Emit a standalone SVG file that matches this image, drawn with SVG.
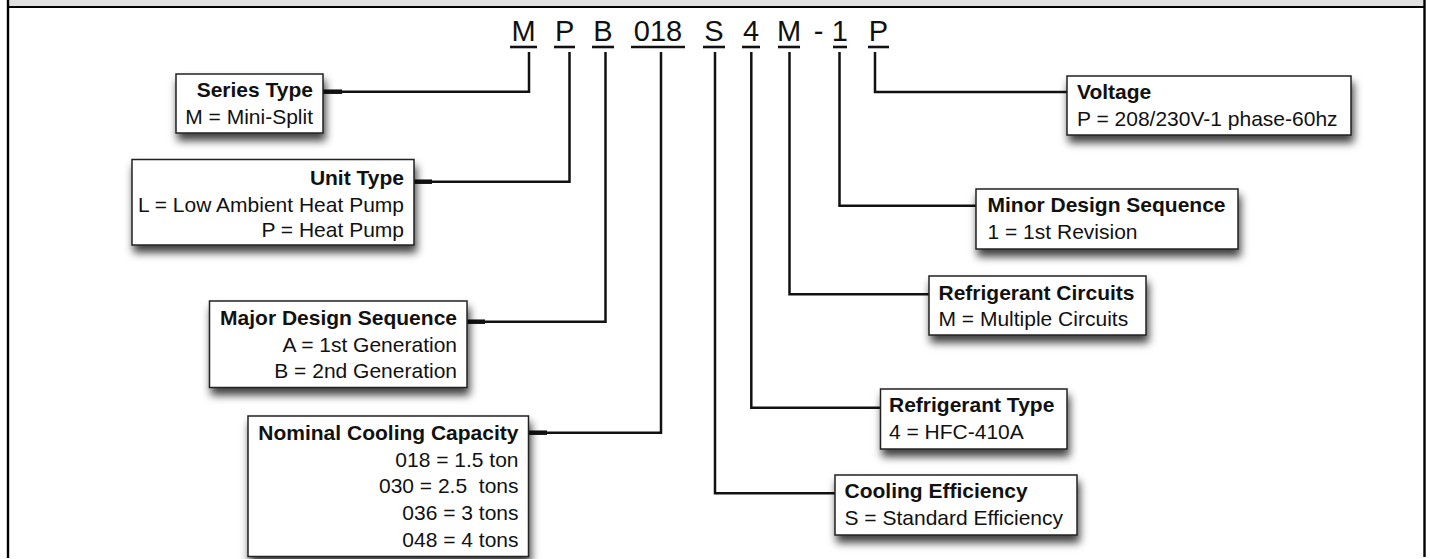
<svg xmlns="http://www.w3.org/2000/svg" width="1430" height="559" viewBox="0 0 1430 559">
<style>
text{font-family:"Liberation Sans",Arial,sans-serif;fill:#111}
.code{font-size:29px;text-anchor:middle}
.t{font-size:21px;font-weight:bold}
.d{font-size:21px}
.l text{text-anchor:end}
.box{fill:#fff;stroke:#222;stroke-width:1.5;filter:url(#sh)}
.ul{stroke:#111;stroke-width:2.6}
.cn{fill:none;stroke:#111;stroke-width:2.5}
.stub{stroke:#111;stroke-width:4.5}
</style>
<defs>
<filter id="sh" x="-10%" y="-20%" width="125%" height="160%">
<feDropShadow dx="2" dy="7" stdDeviation="4" flood-color="#000" flood-opacity="0.75"/>
</filter>
</defs>
<rect width="1430" height="559" fill="#fff"/>
<g id="frame">
<rect x="8" y="0" width="1416" height="7" fill="#e0e0e0"/>
<line x1="8" y1="7" x2="1425" y2="7" stroke="#000" stroke-width="2.2"/>
<line x1="8" y1="0" x2="8" y2="558" stroke="#000" stroke-width="2.4"/>
<line x1="1424.5" y1="0" x2="1424.5" y2="557" stroke="#000" stroke-width="2.4"/>
</g>
<g id="code">
<text class="code" x="523.5" y="41">M</text>
<text class="code" x="564.7" y="41">P</text>
<text class="code" x="603" y="41">B</text>
<text class="code" x="658" y="41">018</text>
<text class="code" x="714" y="41">S</text>
<text class="code" x="751" y="41">4</text>
<text class="code" x="789" y="41">M</text>
<text class="code" x="818.5" y="41">-</text>
<text class="code" x="839.7" y="41">1</text>
<text class="code" x="878.3" y="41">P</text>
<line class="ul" x1="510" y1="47" x2="537" y2="47"/>
<line class="ul" x1="554" y1="47" x2="575" y2="47"/>
<line class="ul" x1="592" y1="47" x2="614" y2="47"/>
<line class="ul" x1="631" y1="47" x2="685" y2="47"/>
<line class="ul" x1="703" y1="47" x2="725" y2="47"/>
<line class="ul" x1="742" y1="47" x2="760" y2="47"/>
<line class="ul" x1="778" y1="47" x2="800" y2="47"/>
<line class="ul" x1="833" y1="47" x2="847" y2="47"/>
<line class="ul" x1="868" y1="47" x2="889" y2="47"/>
</g>
<g id="connectors">
<polyline class="cn" points="529,52 529,91.7 340,91.7"/>
<polyline class="cn" points="569.5,52 569.5,181.7 430,181.7"/>
<polyline class="cn" points="605.5,52 605.5,321.7 484,321.7"/>
<polyline class="cn" points="661,52 661,432.7 545,432.7"/>
<line class="stub" x1="323" y1="91.7" x2="342" y2="91.7"/>
<line class="stub" x1="414" y1="181.7" x2="432" y2="181.7"/>
<line class="stub" x1="467" y1="321.7" x2="485" y2="321.7"/>
<line class="stub" x1="528" y1="432.7" x2="547" y2="432.7"/>
<polyline class="cn" points="875,52 875,92 1067,92"/>
<polyline class="cn" points="839.5,52 839.5,205.7 976,205.7"/>
<polyline class="cn" points="789.5,52 789.5,294.3 929,294.3"/>
<polyline class="cn" points="751.3,52 751.3,407.7 880,407.7"/>
<polyline class="cn" points="715,52 715,493.3 835,493.3"/>
</g>
<g id="series-type" class="l">
<rect class="box" x="176" y="74" width="147" height="59"/>
<text class="t" x="313" y="97">Series Type</text>
<text class="d" x="313" y="123.5">M = Mini-Split</text>
</g>
<g id="unit-type" class="l">
<rect class="box" x="132" y="159.5" width="282" height="85.5"/>
<text class="t" x="404" y="185">Unit Type</text>
<text class="d" x="404" y="211.5">L = Low Ambient Heat Pump</text>
<text class="d" x="404" y="237">P = Heat Pump</text>
</g>
<g id="major-design" class="l">
<rect class="box" x="209.5" y="301" width="257.5" height="86.5"/>
<text class="t" x="457" y="325">Major Design Sequence</text>
<text class="d" x="457" y="351.7">A = 1st Generation</text>
<text class="d" x="457" y="378.3">B = 2nd Generation</text>
</g>
<g id="nominal-cooling" class="l">
<rect class="box" x="248" y="416" width="280.5" height="140.5"/>
<text class="t" x="518.5" y="440">Nominal Cooling Capacity</text>
<text class="d" x="518.5" y="466.7">018 = 1.5 ton</text>
<text class="d" x="518.5" y="493.3" xml:space="preserve">030 = 2.5  tons</text>
<text class="d" x="518.5" y="520">036 = 3 tons</text>
<text class="d" x="518.5" y="546.7">048 = 4 tons</text>
</g>
<g id="voltage">
<rect class="box" x="1067" y="76" width="284" height="59"/>
<text class="t" x="1077" y="98.5">Voltage</text>
<text class="d" x="1077" y="125.5">P = 208/230V-1 phase-60hz</text>
</g>
<g id="minor-design">
<rect class="box" x="976" y="189" width="262" height="60"/>
<text class="t" x="987.5" y="212">Minor Design Sequence</text>
<text class="d" x="987.5" y="239">1 = 1st Revision</text>
</g>
<g id="refrigerant-circuits">
<rect class="box" x="929" y="276" width="217" height="59"/>
<text class="t" x="938.5" y="299.5">Refrigerant Circuits</text>
<text class="d" x="938.5" y="326">M = Multiple Circuits</text>
</g>
<g id="refrigerant-type">
<rect class="box" x="880.5" y="389" width="186.5" height="60"/>
<text class="t" x="889" y="412">Refrigerant Type</text>
<text class="d" x="889" y="439">4 = HFC-410A</text>
</g>
<g id="cooling-efficiency">
<rect class="box" x="835" y="475" width="242" height="60"/>
<text class="t" x="844.5" y="498">Cooling Efficiency</text>
<text class="d" x="844.5" y="525">S = Standard Efficiency</text>
</g>
</svg>
